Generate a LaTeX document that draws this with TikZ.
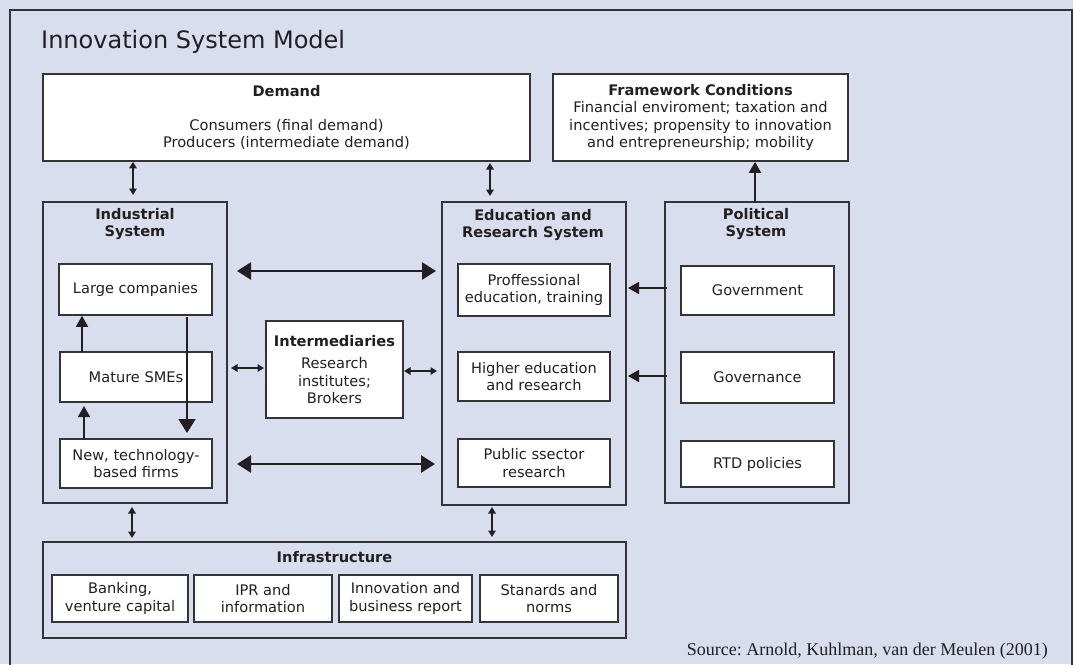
\documentclass[tikz,border=0pt]{standalone}
\usepackage{fontspec}
\setmainfont{DejaVu Sans}
\newfontfamily\srcfont{Liberation Serif}
\usetikzlibrary{arrows.meta}
\frenchspacing
\definecolor{bg}{RGB}{216,222,237}
\definecolor{linec}{RGB}{52,52,54}
\definecolor{txtc}{RGB}{35,31,32}
\newcommand\bodyfont{\fontsize{14.6}{17.5}\selectfont}
\newcommand\mkbox[7]{\node[#1, minimum width={#5-#3}, minimum height={#6-#4}] (#2) at ({(#3+#5)/2},{(#4+#6)/2}) {#7};}
\begin{document}
\begin{tikzpicture}[x=1pt,y=-1pt,
  every node/.style={text=txtc},
  wbox/.style={draw=linec, line width=1.4pt, fill=white, inner sep=0pt, outer sep=0pt, align=center, font=\bodyfont},
  sysbox/.style={draw=linec, line width=1.4pt, inner sep=0pt, outer sep=0pt},
  ttl/.style={align=center, font=\bodyfont\bfseries, inner sep=0pt},
  bigarrow/.style={draw=txtc, line width=2.6pt, {Triangle[length=14pt,width=17pt]}-{Triangle[length=14pt,width=17pt]}},
  midarrow/.style={draw=txtc, line width=1.6pt, -{Triangle[length=11pt,width=12pt]}},
  downarrow/.style={draw=txtc, line width=1.8pt, -{Triangle[length=14pt,width=17pt]}},
  smallarrow/.style={draw=txtc, line width=1.5pt, {Triangle[length=6.5pt,width=7.5pt]}-{Triangle[length=6.5pt,width=7.5pt]}},
  frameline/.style={draw=linec, line width=1.6pt}
]
\useasboundingbox[fill=bg] (0,0) rectangle (1073,664);
\draw[frameline] (10,668) -- (10,10) -- (1072,10) -- (1072,668);

\node[anchor=base west, font=\fontsize{24}{28}\selectfont, inner sep=0pt] (title) at (41,48) {Innovation System Model};

% top boxes
\mkbox{wbox}{demand}{43}{74}{530}{161}{\textbf{Demand}\\[16.5pt]Consumers (final demand)\\Producers (intermediate demand)}
\mkbox{wbox}{framework}{553}{74}{848}{161}{\textbf{Framework Conditions}\\Financial enviroment; taxation and\\incentives; propensity to innovation\\and entrepreneurship; mobility}

% system containers
\mkbox{sysbox}{industrial}{43}{202}{227}{503}{}
\mkbox{sysbox}{education}{442}{202}{626}{505}{}
\mkbox{sysbox}{political}{665}{202}{849}{503}{}
\mkbox{sysbox}{infra}{43}{542}{626}{638}{}

\node[ttl] (indt) at (135,224) {Industrial\\System};
\node[ttl] (edut) at (533,225) {Education and\\Research System};
\node[ttl] (polt) at (756,224) {Political\\System};
\node[ttl] (infrat) at (334.5,557) {Infrastructure};

% industrial
\mkbox{wbox}{large}{59}{264}{212}{315}{Large companies}
\mkbox{wbox}{mature}{60}{352}{212}{402}{Mature SMEs}
\mkbox{wbox}{newtech}{60}{439}{212}{488}{New, technology-\\based firms}

% intermediaries
\mkbox{wbox}{inter}{266}{321}{403}{418}{\textbf{Intermediaries}\\[5pt]Research\\institutes;\\Brokers}

% education
\mkbox{wbox}{prof}{458}{264}{610}{316}{Proffessional\\education, training}
\mkbox{wbox}{higher}{458}{352}{610}{401}{Higher education\\and research}
\mkbox{wbox}{public}{458}{439}{610}{487}{Public ssector\\research}

% political
\mkbox{wbox}{gov}{681}{266}{834}{315}{Government}
\mkbox{wbox}{govern}{681}{352}{834}{403}{Governance}
\mkbox{wbox}{rtd}{681}{441}{834}{487}{RTD policies}

% infrastructure
\mkbox{wbox}{bank}{52}{575}{188}{622}{Banking,\\venture capital}
\mkbox{wbox}{ipr}{194}{575}{332}{622}{IPR and\\information}
\mkbox{wbox}{innov}{339}{575}{472}{622}{Innovation and\\business report}
\mkbox{wbox}{stan}{480}{575}{618}{622}{Stanards and\\norms}

% source
\node[anchor=base east, font=\srcfont\fontsize{18}{20}\selectfont, inner sep=0pt] (src) at (1048,655) {Source: Arnold, Kuhlman, van der Meulen (2001)};

% connectors
\draw[smallarrow, shorten <=0.8pt, shorten >=7pt] (demand.south -| 133,0) -- (industrial.north -| 133,0);
\draw[smallarrow, shorten <=2pt, shorten >=6pt] (demand.south -| 490,0) -- (education.north -| 490,0);
\draw[midarrow, shorten >=0.8pt] (political.north -| 755,0) -- (framework.south -| 755,0);

\draw[bigarrow, shorten <=10pt, shorten >=6pt] (industrial.east |- 0,271) -- (education.west |- 0,271);
\draw[bigarrow, shorten <=10pt, shorten >=7pt] (industrial.east |- 0,464) -- (education.west |- 0,464);

\draw[smallarrow, shorten <=4pt, shorten >=2pt] (industrial.east |- 0,368) -- (inter.west |- 0,368);
\draw[smallarrow, shorten <=1pt, shorten >=5pt] (inter.east |- 0,371) -- (education.west |- 0,371);

\draw[midarrow, shorten >=0.8pt] (mature.north -| 82,0) -- (large.south -| 82,0);
\draw[midarrow, shorten >=4pt] (newtech.north -| 84,0) -- (mature.south -| 84,0);
\draw[downarrow, shorten <=2pt, shorten >=6pt] (large.south -| 187,0) -- (newtech.north -| 187,0);

\draw[midarrow, shorten <=-2pt, shorten >=2pt] (political.west |- 0,288) -- (education.east |- 0,288);
\draw[midarrow, shorten <=-2pt, shorten >=2pt] (political.west |- 0,376) -- (education.east |- 0,376);

\draw[smallarrow, shorten <=4pt, shorten >=4pt] (industrial.south -| 132,0) -- (infra.north -| 132,0);
\draw[smallarrow, shorten <=2pt, shorten >=5pt] (education.south -| 492,0) -- (infra.north -| 492,0);
\end{tikzpicture}
\end{document}
